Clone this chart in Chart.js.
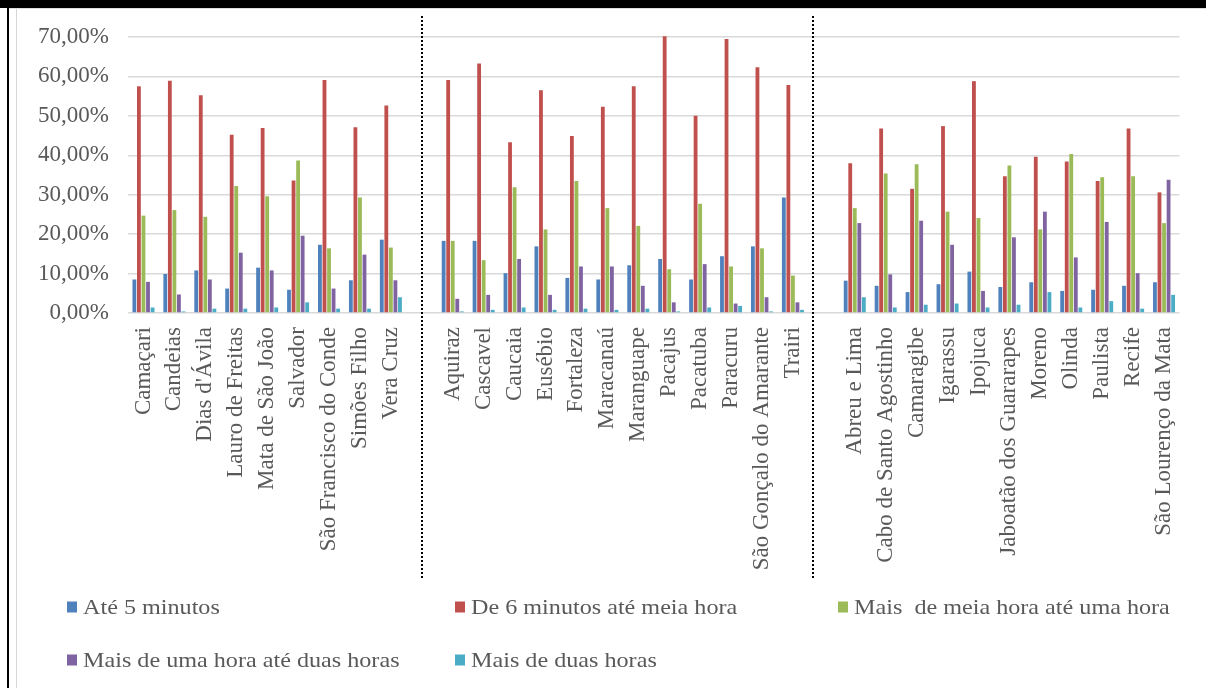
<!DOCTYPE html>
<html lang="pt">
<head>
<meta charset="utf-8">
<title>Tempo de deslocamento casa-trabalho</title>
<script src="https://cdn.jsdelivr.net/npm/chart.js@4.4.1/dist/chart.umd.min.js"></script>
<style>
  html, body { margin: 0; padding: 0; background: #fff; }
  #page { position: relative; width: 1206px; height: 688px; overflow: hidden; background: #fff; }
  #topbar { position: absolute; left: 0; top: 0; width: 1206px; height: 8px; background: #000; }
  #topline { position: absolute; left: 8px; top: 8px; width: 1198px; height: 1px; background: #dedede; }
  #frameBlack { position: absolute; left: 7px; top: 8px; width: 2px; height: 680px; background: #000; }
  #frameGray { position: absolute; left: 16px; top: 9px; width: 1px; height: 679px; background: #d6d6d6; }
  #wrap { position: absolute; left: 0; top: 0; width: 1206px; height: 688px; }
</style>
</head>
<body>
<div id="page">
  <div id="wrap"><canvas id="chart" width="1206" height="688"></canvas></div>
  <div id="topbar"></div>
  <div id="topline"></div>
  <div id="frameBlack"></div>
  <div id="frameGray"></div>
</div>
<script>
// Municipalities of each metropolitan region
const salvadorCities = ['Camaçari', 'Candeias', "Dias d'Ávila", 'Lauro de Freitas', 'Mata de São João',
  'Salvador', 'São Francisco do Conde', 'Simões Filho', 'Vera Cruz'];
const fortalezaCities = ['Aquiraz', 'Cascavel', 'Caucaia', 'Eusébio', 'Fortaleza', 'Maracanaú', 'Maranguape',
  'Pacajus', 'Pacatuba', 'Paracuru', 'São Gonçalo do Amarante', 'Trairi'];
const recifeCities = ['Abreu e Lima', 'Cabo de Santo Agostinho', 'Camaragibe', 'Igarassu', 'Ipojuca',
  'Jaboatão dos Guararapes', 'Moreno', 'Olinda', 'Paulista', 'Recife', 'São Lourenço da Mata'];

// Share of workers by commuting time (%), in the order Salvador, Fortaleza, Recife
const ate5min = [8.5, 9.9, 10.8, 6.2, 11.5, 5.9, 17.3, 8.3, 18.6,
  18.3, 18.3, 10.1, 16.9, 8.9, 8.5, 12.1, 13.7, 8.5, 14.4, 16.9, 29.3,
  8.2, 6.9, 5.3, 7.3, 10.5, 6.6, 7.8, 5.6, 5.9, 6.9, 7.8];
const de6aMeiaHora = [57.5, 58.9, 55.2, 45.2, 46.9, 33.6, 59.1, 47.1, 52.6,
  59.1, 63.3, 43.3, 56.5, 44.9, 52.3, 57.5, 70.2, 50.0, 69.5, 62.3, 57.8,
  38.0, 46.8, 31.5, 47.4, 58.8, 34.7, 39.6, 38.4, 33.5, 46.8, 30.6];
const meiaAUmaHora = [24.7, 26.1, 24.4, 32.2, 29.6, 38.7, 16.4, 29.3, 16.6,
  18.3, 13.4, 31.9, 21.2, 33.5, 26.6, 22.1, 11.1, 27.7, 11.8, 16.4, 9.5,
  26.6, 35.4, 37.7, 25.7, 24.1, 37.4, 21.2, 40.3, 34.4, 34.7, 22.8];
const umaADuasHoras = [7.9, 4.7, 8.5, 15.3, 10.8, 19.6, 6.2, 14.8, 8.3,
  3.6, 4.6, 13.7, 4.6, 11.8, 11.8, 6.9, 2.7, 12.4, 2.4, 4.0, 2.7,
  22.8, 9.8, 23.4, 17.3, 5.6, 19.2, 25.7, 14.1, 23.1, 10.1, 33.8];
const maisDeDuasHoras = [1.4, 0.4, 1.1, 1.1, 1.4, 2.7, 1.1, 1.1, 4.0,
  0.4, 0.8, 1.4, 0.8, 1.1, 0.8, 1.1, 0.4, 1.4, 1.8, 0.4, 0.8,
  4.0, 1.4, 2.1, 2.4, 1.4, 2.1, 5.3, 1.4, 3.0, 1.1, 4.6];

const seriesNames = ['Até 5 minutos', 'De 6 minutos até meia hora', 'Mais  de meia hora até uma hora',
  'Mais de uma hora até duas horas', 'Mais de duas horas'];
const seriesColors = ['#4F81BD', '#C0504D', '#9BBB59', '#8064A2', '#4BACC6'];
const yTicks = [0, 10, 20, 30, 40, 50, 60, 70];

// One empty slot separates the regions on the category axis
const groupSizes = [salvadorCities.length, fortalezaCities.length, recifeCities.length];
const categories = [...salvadorCities, '', ...fortalezaCities, '', ...recifeCities];
function withGaps(values) {
  const out = [];
  let pos = 0;
  groupSizes.forEach((n, g) => {
    out.push(...values.slice(pos, pos + n));
    pos += n;
    if (g < groupSizes.length - 1) out.push(null);
  });
  return out;
}
// Dotted separators, in category units on the x axis
const dividerSlots = [9, 21.65];

const seriesValues = [ate5min, de6aMeiaHora, meiaAUmaHora, umaADuasHoras, maisDeDuasHoras];
const datasets = seriesValues.map((vals, i) => ({
  label: seriesNames[i],
  data: withGaps(vals),
  backgroundColor: seriesColors[i],
  borderWidth: 0,
  clip: false,
  categoryPercentage: 0.735,
  barPercentage: 0.84
}));

const serif = "'Liberation Serif', 'Times New Roman', Times, serif";
const textGray = '#595959';

const dividerPlugin = {
  id: 'regionDividers',
  afterDraw(chart) {
    const x = chart.scales.x;
    const ctx = chart.ctx;
    ctx.save();
    ctx.strokeStyle = '#000';
    ctx.lineWidth = 2;
    ctx.setLineDash([2, 2]);
    dividerSlots.forEach(slot => {
      const px = Math.round(x.getPixelForValue(slot));
      ctx.beginPath();
      ctx.moveTo(px, 16);
      ctx.lineTo(px, 578);
      ctx.stroke();
    });
    ctx.restore();
  }
};

// Legend laid out as a three-column grid under the axis labels
const legendSlots = [[67, 607], [455, 607], [838, 607], [67, 660], [455, 660]];
const gridLegendPlugin = {
  id: 'gridLegend',
  afterDraw(chart) {
    const ctx = chart.ctx;
    chart.data.datasets.forEach((ds, i) => {
      const [lx, ly] = legendSlots[i];
      ctx.save();
      ctx.fillStyle = ds.backgroundColor;
      ctx.fillRect(lx, ly - 5.5, 10, 11);
      ctx.translate(lx + 16, ly);
      ctx.scale(1.15, 1);
      ctx.font = '21px ' + serif;
      ctx.fillStyle = textGray;
      ctx.textBaseline = 'middle';
      ctx.textAlign = 'left';
      ctx.fillText(ds.label, 0, 1);
      ctx.restore();
    });
  }
};

new Chart(document.getElementById('chart'), {
  type: 'bar',
  data: { labels: categories, datasets },
  options: {
    responsive: false,
    animation: false,
    layout: { padding: { left: 20, top: 37, right: 25, bottom: 98 } },
    plugins: { legend: { display: false }, tooltip: { enabled: false } },
    scales: {
      x: {
        grid: { display: false, drawTicks: false },
        border: { display: false },
        ticks: {
          autoSkip: false, minRotation: 90, maxRotation: 90, padding: 14,
          color: textGray, font: { family: serif, size: 23 }
        },
        afterFit(scale) { scale.height = 277; }
      },
      y: {
        min: 0, max: 70,
        afterBuildTicks(scale) { scale.ticks = yTicks.map(v => ({ value: v })); },
        grid: { color: '#d9d9d9', lineWidth: 1.5, drawTicks: false },
        border: { display: false },
        ticks: {
          padding: 19, color: textGray, font: { family: serif, size: 23 },
          callback: v => v.toFixed(2).replace('.', ',') + '%'
        },
        afterFit(scale) { scale.width = 108; }
      }
    }
  },
  plugins: [dividerPlugin, gridLegendPlugin]
});
</script>
</body>
</html>
